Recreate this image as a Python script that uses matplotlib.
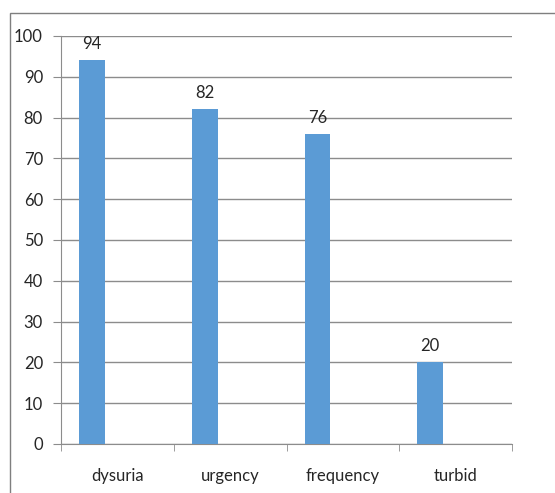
import matplotlib
matplotlib.use("Agg")
import matplotlib.pyplot as plt
from matplotlib.patches import Rectangle
import numpy as np

categories = ["dysuria", "urgency", "frequency", "turbid"]
values = [94, 82, 76, 20]
yticks = [0, 10, 20, 30, 40, 50, 60, 70, 80, 90, 100]

plt.rcParams['font.family'] = ['Lato', 'DejaVu Sans']

W, H = 555, 493
fig = plt.figure(figsize=(W / 100, H / 100), dpi=100)

# outer chart frame
fig.patches.append(Rectangle((10 / W, -0.01), 1.0, (H - 13) / H + 0.01,
                             transform=fig.transFigure, fill=False,
                             edgecolor="#7f7f7f", linewidth=1.0))

ax = fig.add_axes([61 / W, (H - 444) / H, (512 - 61) / W, (444 - 36) / H])

x = np.arange(len(categories))
bar_w = 0.23
offset = -0.225
ax.bar(x + offset, values, width=bar_w, color="#5B9BD5", zorder=3)
for xi, v in zip(x, values):
    ax.text(xi + offset, v + 2.0, str(v), ha="center", va="bottom",
            fontsize=12, color="#262626")

ax.set_xlim(-0.5, len(categories) - 0.5)
ax.set_ylim(0, 100)
ax.set_yticks(yticks)
ax.set_yticklabels([str(t) for t in yticks], fontsize=12, color="#262626")
ax.yaxis.grid(True, color="#8c8c8c", linewidth=1.0, zorder=0)

ax.set_xticks(x)
ax.set_xticklabels(categories, fontsize=12, color="#262626")
ax.tick_params(axis="x", length=0, pad=17)
ax.set_xticks(np.arange(len(categories) + 1) - 0.5, minor=True)
ax.tick_params(axis="x", which="minor", length=5, color="#8c8c8c")
ax.tick_params(axis="y", length=6, color="#8c8c8c", pad=7)

for s in ["top", "right"]:
    ax.spines[s].set_visible(False)
for s in ["left", "bottom"]:
    ax.spines[s].set_color("#8c8c8c")

fig.savefig("out.png", dpi=100)
